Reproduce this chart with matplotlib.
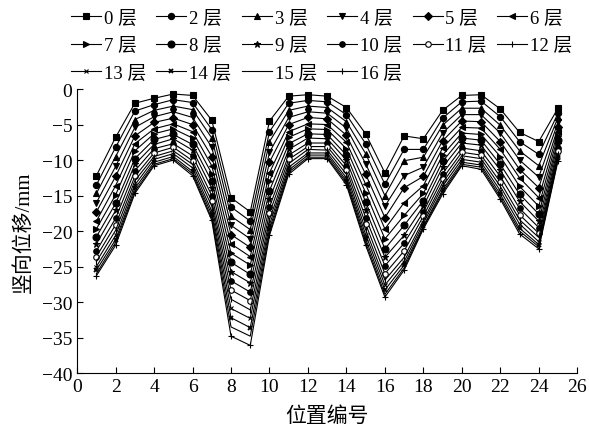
import matplotlib
matplotlib.use("Agg")
import matplotlib.pyplot as plt

plt.rcParams['font.family'] = ['Liberation Serif', 'Noto Sans CJK SC']
plt.rcParams['axes.unicode_minus'] = True

positions = list(range(1, 26))
floors = ["0 层", "2 层", "3 层", "4 层", "5 层", "6 层", "7 层", "8 层", "9 层",
          "10 层", "11 层", "12 层", "13 层", "14 层", "15 层", "16 层"]

s0 = [-12.2, -6.8, -2.0, -1.3, -0.7, -0.9, -4.4, -15.3, -17.3, -4.5, -1.0, -0.8, -1.0, -2.6, -6.3, -11.8, -6.6, -7.0, -3.0, -0.9, -0.8, -2.8, -6.1, -7.4, -2.7]
s2 = [-13.5, -8.2, -3.1, -2.2, -1.5, -1.9, -5.7, -16.6, -18.6, -6.0, -2.0, -1.6, -1.8, -3.6, -7.7, -13.4, -8.5, -8.5, -4.1, -1.8, -1.7, -3.9, -7.4, -9.2, -3.4]
s3 = [-14.7, -9.5, -4.3, -3.0, -2.4, -2.9, -6.9, -17.9, -19.8, -7.4, -3.0, -2.4, -2.6, -4.6, -9.1, -15.0, -10.1, -9.6, -5.1, -2.7, -2.7, -5.1, -8.7, -10.8, -4.0]
s4 = [-16.0, -10.9, -5.4, -3.9, -3.2, -4.0, -8.2, -19.2, -21.1, -8.9, -4.0, -3.2, -3.4, -5.5, -10.5, -16.5, -12.2, -11.0, -6.2, -3.6, -3.6, -6.2, -10.0, -12.4, -4.7]
s5 = [-17.3, -12.3, -6.6, -4.7, -4.1, -5.0, -9.5, -20.5, -22.3, -10.3, -5.0, -4.0, -4.2, -6.5, -12.0, -18.1, -13.9, -12.3, -7.3, -4.5, -4.6, -7.4, -11.3, -13.9, -5.4]
s6 = [-18.6, -13.6, -7.7, -5.6, -4.9, -6.0, -10.8, -21.8, -23.6, -11.8, -6.0, -4.9, -5.0, -7.5, -13.4, -19.7, -16.0, -13.6, -8.3, -5.4, -5.5, -8.5, -12.5, -15.3, -6.0]
s7 = [-19.7, -14.9, -8.7, -6.3, -5.6, -6.9, -11.9, -23.1, -24.8, -13.0, -6.8, -5.6, -5.7, -8.4, -14.6, -21.1, -17.8, -14.7, -9.3, -6.2, -6.4, -9.5, -13.7, -16.5, -6.6]
s8 = [-20.8, -16.1, -9.8, -7.1, -6.4, -7.8, -13.0, -24.4, -26.1, -14.3, -7.7, -6.3, -6.4, -9.3, -15.9, -22.5, -19.2, -15.7, -10.2, -6.9, -7.2, -10.6, -14.8, -17.6, -7.2]
s9 = [-21.8, -17.1, -10.6, -7.8, -7.0, -8.6, -14.0, -25.7, -27.3, -15.5, -8.5, -6.9, -7.0, -10.0, -17.0, -23.7, -20.6, -16.5, -11.0, -7.6, -7.9, -11.4, -15.8, -18.6, -7.7]
s10 = [-22.8, -18.2, -11.5, -8.4, -7.7, -9.4, -15.0, -27.0, -28.6, -16.6, -9.3, -7.6, -7.6, -10.8, -18.1, -24.9, -21.7, -17.3, -11.9, -8.3, -8.7, -12.3, -16.8, -19.5, -8.3]
s11 = [-23.6, -19.1, -12.3, -9.0, -8.2, -10.1, -15.8, -28.3, -29.8, -17.5, -9.9, -8.1, -8.1, -11.4, -19.0, -26.0, -22.8, -17.9, -12.6, -8.9, -9.3, -13.1, -17.7, -20.3, -8.7]
s12 = [-24.3, -19.9, -12.9, -9.5, -8.7, -10.6, -16.5, -29.6, -31.1, -18.4, -10.5, -8.5, -8.6, -12.0, -19.8, -26.9, -23.7, -18.5, -13.2, -9.4, -9.8, -13.7, -18.4, -20.9, -9.1]
s13 = [-25.0, -20.6, -13.5, -9.9, -9.1, -11.1, -17.2, -30.9, -32.3, -19.1, -11.0, -9.0, -9.0, -12.5, -20.5, -27.6, -24.3, -18.9, -13.7, -9.9, -10.3, -14.3, -19.0, -21.5, -9.4]
s14 = [-25.5, -21.2, -14.0, -10.3, -9.5, -11.6, -17.7, -32.2, -33.6, -19.7, -11.4, -9.3, -9.3, -12.9, -21.1, -28.3, -24.8, -19.3, -14.2, -10.3, -10.7, -14.8, -19.6, -21.9, -9.7]
s15 = [-26.0, -21.6, -14.4, -10.6, -9.8, -11.9, -18.2, -33.5, -34.8, -20.2, -11.7, -9.6, -9.6, -13.2, -21.6, -28.9, -25.2, -19.5, -14.5, -10.6, -11.0, -15.2, -20.0, -22.2, -9.9]
s16 = [-26.3, -22.0, -14.7, -10.8, -10.0, -12.2, -18.5, -34.8, -36.1, -20.6, -12.0, -9.8, -9.8, -13.5, -22.0, -29.3, -25.5, -19.7, -14.8, -10.8, -11.3, -15.5, -20.4, -22.5, -10.1]

series = [s0, s2, s3, s4, s5, s6, s7, s8, s9, s10, s11, s12, s13, s14, s15, s16]

styles = [
    dict(marker='s', ms=4.5),
    dict(marker='o', ms=4.5),
    dict(marker='^', ms=5),
    dict(marker='v', ms=5),
    dict(marker='D', ms=3.8),
    dict(marker='<', ms=5),
    dict(marker='>', ms=5),
    dict(marker='o', ms=5),
    dict(marker='*', ms=5),
    dict(marker='o', ms=4),
    dict(marker='o', ms=4, mfc='white'),
    dict(marker='|', ms=5),
    dict(marker='x', ms=3.5),
    dict(marker='x', ms=3.5, mew=1.3),
    dict(marker=None),
    dict(marker='+', ms=5),
]

fig = plt.figure(figsize=(5.89, 4.35), dpi=100)
ax = fig.add_axes([0.131, 0.140, 0.849, 0.653])

handles = []
for vals, lab, st in zip(series, floors, styles):
    kw = dict(color='black', lw=0.8, mec='black', mfc='black', mew=0.8)
    kw.update(st)
    h, = ax.plot(positions, vals, label=lab, **kw)
    handles.append(h)

ax.set_xlim(0, 26)
ax.set_ylim(-40, 0)
ax.set_xticks(range(0, 27, 2))
ax.set_yticks(range(-40, 1, 5))
ax.tick_params(direction='in', labelsize=14, length=4, width=0.8, colors='black')
for side in ['top', 'right']:
    ax.spines[side].set_visible(False)
for side in ['left', 'bottom']:
    ax.spines[side].set_linewidth(0.8)
ax.set_xlabel("位置编号", fontsize=15, labelpad=8)
ax.set_ylabel("竖向位移/mm", fontsize=15, labelpad=6)

# legend arranged row-wise: 6 + 6 + 4
order = [0, 6, 12, 1, 7, 13, 2, 8, 14, 3, 9, 15, 4, 10, 5, 11]
fig.legend([handles[i] for i in order], [floors[i] for i in order],
           loc='upper left', bbox_to_anchor=(0.108, 0.993), ncol=6, frameon=False,
           fontsize=13.5, handlelength=1.6, handletextpad=0.15, columnspacing=0.55,
           labelspacing=0.55, borderaxespad=0.0)

fig.savefig("out.png", dpi=100)
